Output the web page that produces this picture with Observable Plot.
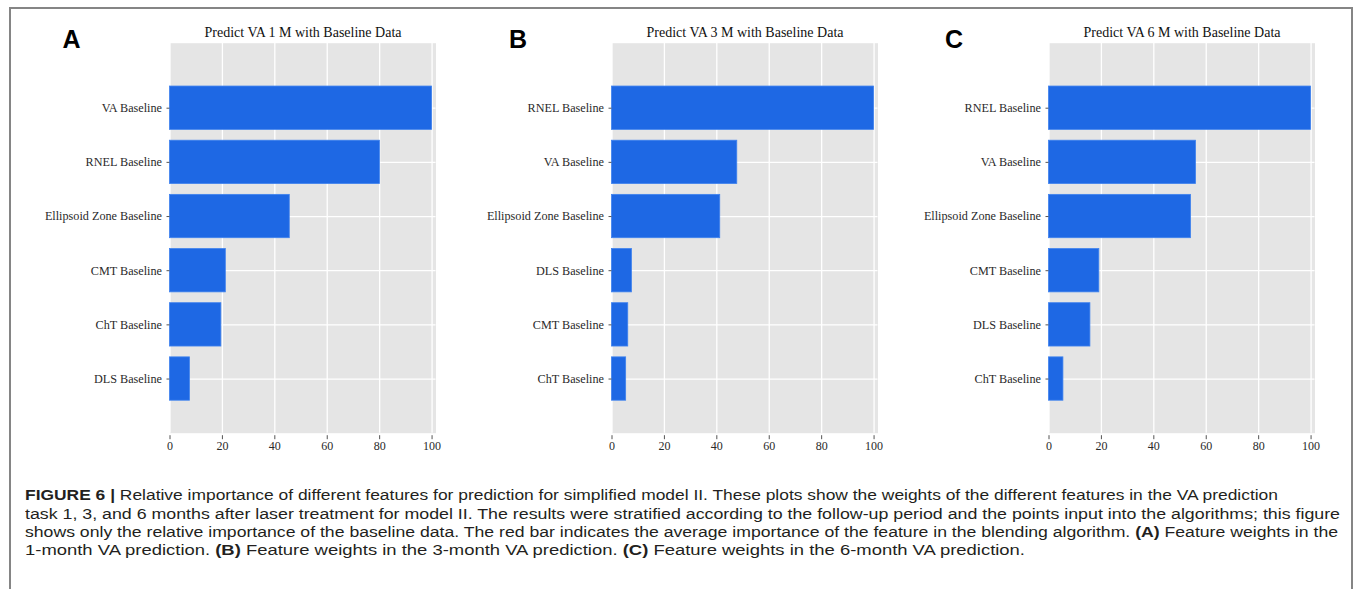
<!DOCTYPE html>
<html>
<head>
<meta charset="utf-8">
<script src="https://cdn.jsdelivr.net/npm/d3@7"></script>
<script src="https://cdn.jsdelivr.net/npm/@observablehq/plot@0.6"></script>
<style>
  body { margin: 0; background: #fff; }
  #root { position: relative; width: 1355px; height: 589px; overflow: hidden; background: #fff; }
  #frame { position: absolute; left: 8.5px; top: 6.5px; width: 1344px; height: 700px; border: 2px solid #858585; box-sizing: border-box; }
  .panel { position: absolute; top: 0; }
  .panel svg { overflow: visible; }
  .capline { position: absolute; left: 25px; white-space: nowrap; transform-origin: 0 0;
             font-family: "Liberation Sans Narrow", "Liberation Sans", Arial, sans-serif; font-size: 15.5px; line-height: 15.5px; color: #231f20; }
  .capline b { font-weight: bold; }
</style>
</head>
<body>
<div id="root">
  <div id="frame"></div>
  <div id="pA" class="panel" style="left:0px"></div>
  <div id="pB" class="panel" style="left:441.5px"></div>
  <div id="pC" class="panel" style="left:878.5px"></div>
  <span class="capline" data-w="1253" style="top:487.2px"><b>FIGURE 6 |</b> Relative importance of different features for prediction for simplified model II. These plots show the weights of the different features in the VA prediction</span>
  <span class="capline" data-w="1315" style="top:505.6px">task 1, 3, and 6 months after laser treatment for model II. The results were stratified according to the follow-up period and the points input into the algorithms; this figure</span>
  <span class="capline" data-w="1313" style="top:524px">shows only the relative importance of the baseline data. The red bar indicates the average importance of the feature in the blending algorithm. <b>(A)</b> Feature weights in the</span>
  <span class="capline" data-w="1000" style="top:542.4px">1-month VA prediction. <b>(B)</b> Feature weights in the 3-month VA prediction. <b>(C)</b> Feature weights in the 6-month VA prediction.</span>
</div>
<script>
// ---- data ----
const labelsA = ["VA Baseline", "RNEL Baseline", "Ellipsoid Zone Baseline", "CMT Baseline", "ChT Baseline", "DLS Baseline"];
const valuesA = [100, 80.1, 45.7, 21.3, 19.6, 7.6];

const labelsB = ["RNEL Baseline", "VA Baseline", "Ellipsoid Zone Baseline", "DLS Baseline", "CMT Baseline", "ChT Baseline"];
const valuesB = [100, 47.8, 41.3, 7.6, 6.2, 5.4];

const labelsC = ["RNEL Baseline", "VA Baseline", "Ellipsoid Zone Baseline", "CMT Baseline", "DLS Baseline", "ChT Baseline"];
const valuesC = [100, 56.1, 54.2, 19.2, 15.8, 5.5];

const titles = ["Predict VA 1 M with Baseline Data", "Predict VA 3 M with Baseline Data", "Predict VA 6 M with Baseline Data"];
const panelLetters = ["A", "B", "C"];
const xTicks = [0, 20, 40, 60, 80, 100];

// ---- drawing ----
const serif = "'Liberation Serif', 'Times New Roman', serif";

function panel(labels, values, title, letter, letterDx) {
  const data = labels.map((name, i) => ({ name, i, value: values[i] }));
  return Plot.plot({
    width: 450.5,
    height: 460,
    marginLeft: 169.5,
    marginRight: 15,
    marginTop: 42.7,
    marginBottom: 27.3,
    style: { background: "transparent", fontFamily: serif, fontSize: "12px", color: "#2a2a2a", overflow: "visible", maxWidth: "none" },
    x: { domain: [0, 101.5] },
    y: { domain: [6.0, -1.2] },
    marks: [
      Plot.frame({ fill: "#e5e5e5", stroke: "none" }),
      Plot.ruleX(xTicks, { x: d => d, stroke: "#ffffff", strokeWidth: 1.3 }),
      Plot.ruleY(data, { y: "i", stroke: "#ffffff", strokeWidth: 1.3 }),
      Plot.rectX(data, {
        x1: 0, x2: "value",
        y1: d => d.i - 0.4, y2: d => d.i + 0.4,
        fill: "#1e68e4", stroke: "#3f82ee", strokeWidth: 0.8
      }),
      Plot.axisX({ ticks: xTicks, tickSize: 4, tickPadding: 2, dy: 2.5, label: null, stroke: "#555", fill: "#2a2a2a", fontSize: 12 }),
      Plot.axisY({ ticks: data.map(d => d.i), tickFormat: i => labels[i], tickSize: 3, tickPadding: 5, label: null, stroke: "#555", fill: "#2a2a2a", fontSize: 12.2 }),
      Plot.text([title], { frameAnchor: "top", lineAnchor: "bottom", dy: -6.7, fontSize: 14, fontFamily: serif, fill: "#111" }),
      Plot.text([letter], { frameAnchor: "top-left", textAnchor: "start", lineAnchor: "bottom", dx: letterDx, dy: 5, fontSize: 25, fontWeight: "bold", fontFamily: "'Liberation Sans', Arial, sans-serif", fill: "#000" })
    ]
  });
}

document.getElementById("pA").append(panel(labelsA, valuesA, titles[0], panelLetters[0], -107.5));
document.getElementById("pB").append(panel(labelsB, valuesB, titles[1], panelLetters[1], -103));
document.getElementById("pC").append(panel(labelsC, valuesC, titles[2], panelLetters[2], -104));

// fit caption lines to the widths seen in the reference
document.querySelectorAll(".capline").forEach(el => {
  const target = +el.dataset.w;
  const w = el.getBoundingClientRect().width;
  el.style.transform = `scaleX(${target / w})`;
});
</script>
</body>
</html>
